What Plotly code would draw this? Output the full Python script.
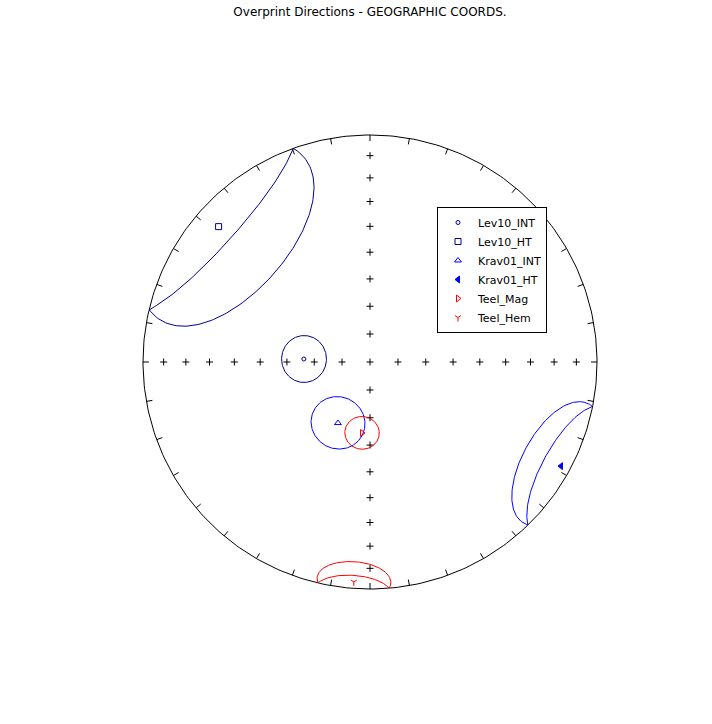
import numpy as np
import plotly.graph_objects as go

# ---- data ----
names = ["Lev10_INT", "Lev10_HT", "Krav01_INT", "Krav01_HT", "Teel_Mag", "Teel_Hem"]
decs = [272.6, 311.8, 207.7, 118.6, 186.4, 184.2]
incs = [-66.2, -11.5, -65.2, 4.7, -64.3, 3.2]
a95s = [8.2, 30.5, 9.5, 17.9, 6.0, 9.6]
colors = ["#00008b", "#00008b", "#0000ff", "#0000ff", "#ff0000", "#ff0000"]
symbols_lower = ["circle", "square", "triangle-up", "triangle-left", "triangle-right", "y-down"]
symbols_upper = ["circle-open", "square-open", "triangle-up-open", "triangle-left-open",
                 "triangle-right-open", "y-down-open"]
sizes = [4, 6, 6, 6, 6, 5]

title = "Overprint Directions - GEOGRAPHIC COORDS."


def dir2cart(d, i):
    d, i = np.radians(d), np.radians(i)
    return np.array([np.cos(d) * np.cos(i), np.sin(d) * np.cos(i), np.sin(i)])


def dimap_cart(v):
    x, y, z = v
    h = np.sqrt(x ** 2 + y ** 2)
    h = np.where(h == 0, 1e-12, h)
    R = np.sqrt(1 - np.abs(z)) / h
    return y * R, x * R


def dimap(d, i):
    return dimap_cart(dir2cart(np.asarray(d, float), np.asarray(i, float)))


def small_circle(d, i, a, n=201):
    p = dir2cart(d, i)
    ref = np.array([0.0, 0.0, 1.0]) if abs(p[2]) < 0.9 else np.array([1.0, 0.0, 0.0])
    u = np.cross(p, ref); u /= np.linalg.norm(u)
    w = np.cross(p, u)
    psi = np.linspace(0, 2 * np.pi, n)
    a = np.radians(a)
    pts = (np.cos(a) * p[:, None] + np.sin(a) * (np.cos(psi) * u[:, None] + np.sin(psi) * w[:, None]))
    return dimap_cart(pts)


fig = go.Figure()

# primitive circle
ang = np.linspace(0, 360, 361)
px, py = dimap(ang, np.zeros_like(ang))
fig.add_trace(go.Scatter(x=px, y=py, mode="lines", line=dict(color="black", width=1),
                         showlegend=False, hoverinfo="skip"))

# ticks every 10 degrees on the primitive
tx, ty = [], []
for D in range(0, 360, 10):
    xs, ys = dimap(np.full(4, D, float), np.arange(4, dtype=float))
    tx += list(xs) + [None]
    ty += list(ys) + [None]
fig.add_trace(go.Scatter(x=tx, y=ty, mode="lines", line=dict(color="black", width=1),
                         showlegend=False, hoverinfo="skip"))

# crosses along the axes
cd, ci = [], []
for I in range(10, 100, 10):
    cd.append(0.0); ci.append(float(I))
for D in (90.0, 180.0, 270.0):
    for I in range(10, 90, 10):
        cd.append(D); ci.append(float(I))
cx, cy = dimap(np.array(cd), np.array(ci))
fig.add_trace(go.Scatter(x=cx, y=cy, mode="markers",
                         marker=dict(symbol="cross-thin", size=5, line=dict(color="black", width=1)),
                         showlegend=False, hoverinfo="skip"))

for k, nm in enumerate(names):
    x0, y0 = dimap(decs[k], incs[k])
    sym = symbols_upper[k] if incs[k] < 0 else symbols_lower[k]
    fig.add_trace(go.Scatter(x=[x0], y=[y0], mode="markers", name=nm, legendgroup=nm,
                             marker=dict(symbol=sym, size=sizes[k], color=colors[k],
                                         line=dict(color=colors[k], width=1))))
    ex, ey = small_circle(decs[k], incs[k], a95s[k])
    fig.add_trace(go.Scatter(x=ex, y=ey, mode="lines", line=dict(color=colors[k], width=1),
                             legendgroup=nm, showlegend=False, hoverinfo="skip"))

L, T, W, H = 60, 52, 620, 620
half = (W / 2) / 227.0
fig.update_layout(
    width=712, height=724,
    margin=dict(l=L, r=712 - L - W, t=T, b=724 - T - H),
    paper_bgcolor="white", plot_bgcolor="white",
    font=dict(family="DejaVu Sans", size=12, color="black"),
    title=dict(text=title, x=0.5, xref="paper", y=1 - 12 / 724, yref="container",
               yanchor="middle", font=dict(size=12)),
    xaxis=dict(range=[-half, half], visible=False, fixedrange=True),
    yaxis=dict(range=[-half, half], visible=False, fixedrange=True),
    showlegend=True,
    legend=dict(x=(437 - L) / W, y=(T + H - 207) / H, xanchor="left", yanchor="top",
                bordercolor="black", borderwidth=1, bgcolor="white",
                font=dict(size=11), traceorder="grouped", tracegroupgap=0),
)
fig.write_html("out.html")
